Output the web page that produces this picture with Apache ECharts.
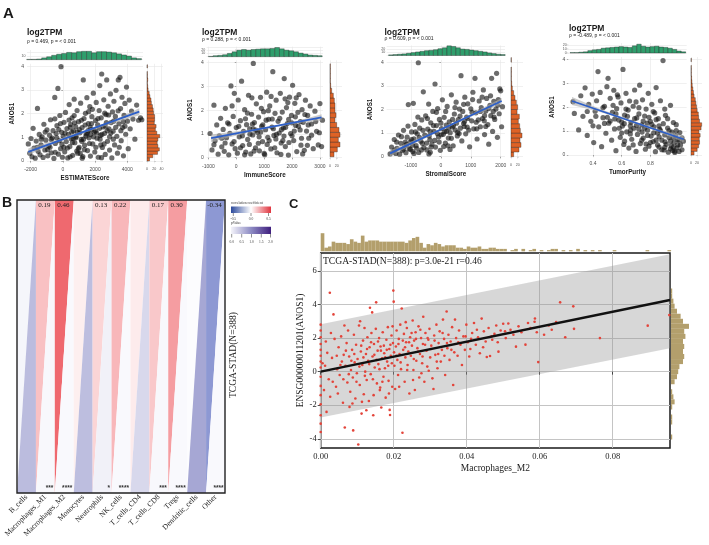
<!DOCTYPE html>
<html>
<head>
<meta charset="utf-8">
<script src="https://cdn.jsdelivr.net/npm/echarts@6.0.0/dist/echarts.min.js"></script>
<style>
html, body { margin: 0; padding: 0; background: #fff; }
#frame { width: 709px; height: 545px; }
</style>
</head>
<body>
<div id="frame"></div>
<script>
// ---------- panel A : ANOS1 against the ESTIMATE scores ----------
const a1Points = [[-2150,0.72],[-2060,0.33],[-1980,0.95],[-1920,0.18],[-1850,1.38],[-1790,0.55],[-1720,0.12],[-1660,0.84],[-1580,2.22],[-1540,0.41],[-1470,1.12],[-1420,0.26],[-1360,0.68],[-1290,1.02],[-1230,0.15],[-1180,1.55],[-1120,0.47],[-1060,0.88],[-990,1.31],[-940,0.22],[-880,0.63],[-830,1.09],[-770,1.74],[-720,0.35],[-660,0.97],[-610,1.28],[-560,0.11],[-505,2.68],[-470,0.74],[-420,1.16],[-370,1.49],[-310,3.06],[-280,0.29],[-230,0.86],[-190,1.92],[-140,0.52],[-118,3.98],[-80,1.21],[-30,0.16],[20,1.04],[70,1.63],[110,0.39],[160,2.05],[210,0.82],[250,1.37],[300,0.13],[340,1.12],[390,2.38],[430,0.61],[480,1.54],[520,0.94],[570,1.82],[610,0.24],[660,1.27],[700,2.61],[740,0.77],[790,1.45],[830,1.03],[880,2.13],[920,0.33],[970,1.66],[1010,0.58],[1060,1.19],[1100,2.44],[1140,0.91],[1190,1.41],[1240,0.19],[1267,3.42],[1310,1.79],[1350,0.67],[1400,2.01],[1440,1.14],[1490,2.67],[1530,0.44],[1580,1.58],[1620,0.98],[1670,2.29],[1710,0.21],[1760,1.33],[1800,1.87],[1850,0.72],[1890,2.86],[1940,1.22],[1980,0.38],[2030,1.71],[2070,2.47],[2120,0.96],[2160,1.53],[2200,0.16],[2250,2.13],[2290,3.18],[2330,1.08],[2380,1.82],[2410,3.67],[2450,0.57],[2500,1.44],[2540,2.58],[2590,1.17],[2630,0.28],[2680,1.96],[2720,3.42],[2770,0.83],[2810,2.31],[2860,1.36],[2900,0.46],[2950,2.83],[2990,1.62],[3040,0.13],[3080,2.07],[3120,1.26],[3170,2.52],[3210,0.68],[3260,1.88],[3300,2.98],[3350,1.04],[3390,0.33],[3441,3.42],[3480,1.57],[3545,3.53],[3580,2.21],[3620,0.86],[3670,2.69],[3710,1.41],[3760,0.22],[3800,1.93],[3850,2.43],[3900,1.13],[3950,3.12],[4010,1.68],[4060,0.52],[4120,2.57],[4180,1.36],[4260,2.11],[4350,1.77],[4470,0.92],[4580,2.36],[4700,1.72],[4820,1.82],[4900,1.74],[640,0.95],[890,1.22],[1170,0.83],[1430,1.05],[1720,1.12],[2020,1.27],[2310,0.92],[2620,1.48],[1560,1.28],[960,0.52],
  [-950,0.48],[-720,0.91],[-480,0.37],[-260,1.33],[-60,0.71],[130,1.18],[280,0.55],[460,1.42],[590,0.78],[720,1.61],[860,0.42],[1020,1.33],[1150,1.72],[1280,0.92],[1380,1.52],[1520,1.18],[1650,0.74],[1780,1.58],[1900,1.02],[2050,0.58],[2180,1.79],[2280,1.38],[2420,1.12],[2560,0.72],[2700,1.62],[2840,1.94],[2980,1.18],[3130,0.92],[3280,1.42],[3430,2.12],[3600,1.28],[3750,1.66],[-1350,0.92],[-1100,1.22],[-800,0.58],[-380,0.98],[-150,1.58],[60,0.58],[380,1.73],[550,1.22],[800,0.98],[1080,0.32],[1330,0.48],[1600,2.08],[1830,2.18],[2100,1.18],[2350,0.68],[2600,2.02],[2900,1.02],[3150,1.68],[3500,0.58],[3850,1.47],[450,0.18],[1200,0.12],[2400,0.14],[-1600,0.58],[-500,1.78],[700,1.92],[1700,1.42],[2750,1.28]];
const a2Points = [[-940,1.02],[-870,0.33],[-800,2.21],[-760,0.71],[-700,1.38],[-650,0.15],[-610,0.92],[-560,1.66],[-520,0.46],[-470,1.19],[-430,0.27],[-390,2.08],[-350,0.84],[-310,1.47],[-270,0.12],[-230,1.03],[-190,3.02],[-150,0.58],[-110,1.74],[-70,2.71],[-40,0.38],[0,1.27],[40,0.19],[70,2.43],[110,0.88],[150,1.56],[190,3.22],[230,0.51],[260,1.11],[300,2.02],[340,0.24],[370,1.39],[410,0.77],[440,2.63],[480,1.21],[520,0.16],[550,1.83],[590,0.96],[611,3.97],[650,1.48],[690,0.42],[720,2.27],[760,1.07],[800,1.71],[830,0.29],[870,2.54],[910,1.32],[940,0.68],[980,1.94],[1020,0.13],[1050,1.18],[1090,2.76],[1130,0.86],[1160,1.62],[1200,2.18],[1240,0.37],[1280,1.29],[1310,3.62],[1350,0.94],[1390,1.87],[1430,2.42],[1460,0.21],[1500,1.53],[1540,1.04],[1580,2.71],[1610,0.62],[1650,1.92],[1690,1.25],[1720,3.33],[1760,0.47],[1800,2.11],[1830,1.44],[1870,0.11],[1910,2.55],[1950,1.02],[1980,1.78],[2020,3.05],[2060,0.72],[2100,2.29],[2130,1.36],[2170,0.26],[2210,1.91],[2250,2.66],[2290,1.17],[2320,0.53],[2360,2.02],[2400,1.49],[2440,0.31],[2480,2.42],[2520,1.12],[2560,1.78],[2600,0.82],[2650,2.18],[2700,1.42],[2760,0.38],[2820,1.96],[2880,1.11],[2940,0.54],[3000,2.28],[3060,0.47],[3090,1.58],[610,1.22],[880,1.08],[1290,1.63],[1710,0.91],[1990,1.47],[1110,0.56],[1420,0.79],[790,0.61],[490,0.99],[1890,0.64],
  [-520,0.82],[-260,1.42],[-80,0.68],[90,1.32],[220,0.92],[330,1.64],[470,0.56],[580,1.42],[700,1.16],[820,0.88],[950,1.38],[1070,1.58],[1180,0.72],[1330,1.22],[1440,0.98],[1560,1.66],[1670,0.72],[1770,1.28],[1880,1.62],[2000,0.92],[2120,1.72],[2230,1.32],[2340,0.82],[2460,1.82],[2580,1.38],[2700,0.95],[2850,1.52],[-800,0.55],[-400,0.62],[150,0.42],[400,1.88],[640,0.28],[900,2.08],[1150,1.98],[1380,0.42],[1620,1.18],[1850,2.32],[2080,1.12],[2300,1.52],[2550,0.52],[2980,1.05],[560,2.52],[1250,2.58],[1750,2.48],[2150,2.52],[300,0.12],[1000,0.18],[1600,0.14],[2380,0.16],[-150,2.18]];
const a3Points = [[-1700,0.12],[-1650,0.41],[-1600,0.2],[-1560,0.73],[-1510,0.14],[-1470,0.36],[-1420,0.92],[-1380,0.11],[-1340,0.57],[-1290,0.26],[-1250,1.12],[-1210,0.45],[-1170,0.17],[-1130,0.83],[-1090,2.21],[-1060,0.34],[-1020,0.63],[-980,1.05],[-940,0.22],[-923,2.26],[-900,0.76],[-870,1.37],[-830,0.47],[-790,0.97],[-756,3.98],[-740,0.18],[-710,1.21],[-670,0.66],[-640,1.56],[-588,2.75],[-570,0.39],[-540,0.92],[-510,1.73],[-470,0.29],[-440,1.17],[-410,2.23],[-370,0.72],[-340,1.44],[-300,0.53],[-270,1.92],[-230,1.07],[-197,3.08],[-180,0.41],[-150,1.32],[-110,2.04],[-80,0.84],[-50,1.58],[-20,0.27],[20,1.19],[50,2.41],[80,0.95],[110,1.67],[150,0.58],[180,1.34],[210,2.13],[250,0.79],[280,1.48],[310,1.02],[350,2.62],[380,1.26],[410,0.46],[450,1.81],[480,1.13],[510,2.31],[550,0.88],[580,1.57],[620,2.02],[650,1.21],[672,3.43],[700,0.67],[730,1.92],[760,1.41],[800,2.52],[830,0.97],[860,1.68],[900,2.24],[930,1.13],[960,0.42],[1000,2.03],[1030,1.52],[1070,2.73],[1100,1.18],[1140,3.32],[1170,1.86],[1210,0.75],[1251,1.56],[1280,2.36],[1320,1.27],[1350,2.08],[1390,1.62],[1420,2.83],[1460,0.94],[1500,1.94],[1530,2.47],[1570,1.36],[1600,0.53],[1640,2.18],[1670,1.74],[1696,3.32],[1730,1.07],[1770,2.34],[1800,1.58],[1840,2.02],[1863,3.53],[1890,0.82],[1920,2.42],[1950,1.82],[1970,2.87],[2000,2.79],[2030,1.27],[2060,2.12],[-810,0.36],[-620,0.57],[-390,0.88],[-210,0.69],[10,0.93],[190,1.08],[420,1.31],[610,0.98],[790,1.49],[-1020,0.31],[-1190,0.62],[-355,0.19],[95,0.43],[305,0.31],
  [-1480,0.62],[-1320,0.85],[-1150,0.52],[-980,0.73],[-850,1.05],[-720,0.82],[-600,1.12],[-480,0.58],[-360,1.08],[-250,1.32],[-120,0.98],[0,1.42],[130,1.06],[260,1.22],[390,1.58],[520,1.42],[640,1.72],[780,1.28],[900,1.62],[1040,1.88],[1180,1.46],[1320,1.92],[1460,1.74],[1600,2.04],[1750,1.92],[1900,2.18],[-1550,0.28],[-1250,0.32],[-950,0.49],[-650,0.29],[-330,0.41],[-60,0.62],[240,0.46],[560,1.03],[880,1.26],[1200,1.18],[1500,1.28],[1780,1.68],[-1100,1.3],[-770,1.68],[-450,1.62],[-150,1.88],[160,1.92],[470,2.08],[760,2.22],[1060,2.42],[1380,2.52],[1660,2.58],[-400,0.12],[-900,0.14],[350,0.78],[1450,1.52]];
const a4Points = [[0.261,2.23],[0.27,1.74],[0.3,1.05],[0.315,2.48],[0.33,1.62],[0.345,2.81],[0.36,0.82],[0.37,2.12],[0.385,1.41],[0.395,2.55],[0.405,0.52],[0.415,1.83],[0.425,2.27],[0.435,3.49],[0.44,1.18],[0.45,2.62],[0.46,0.35],[0.47,1.56],[0.48,2.04],[0.49,0.91],[0.497,2.86],[0.505,3.21],[0.51,1.33],[0.52,2.37],[0.53,0.62],[0.535,1.78],[0.545,2.71],[0.55,1.09],[0.56,0.18],[0.565,1.94],[0.575,2.43],[0.58,1.46],[0.59,0.74],[0.595,2.18],[0.605,1.21],[0.609,3.58],[0.615,0.44],[0.62,1.67],[0.63,2.58],[0.635,0.97],[0.645,1.88],[0.65,0.29],[0.655,2.26],[0.665,1.37],[0.67,0.66],[0.68,2.04],[0.685,1.12],[0.69,2.72],[0.7,0.15],[0.705,1.55],[0.71,0.86],[0.72,1.98],[0.725,2.92],[0.73,0.48],[0.74,1.26],[0.745,2.31],[0.75,0.71],[0.76,1.63],[0.765,0.24],[0.77,1.92],[0.78,1.04],[0.785,2.58],[0.79,0.37],[0.8,1.41],[0.805,0.79],[0.81,2.12],[0.82,0.56],[0.825,1.18],[0.83,1.76],[0.835,0.14],[0.84,2.82],[0.85,0.92],[0.855,1.52],[0.86,0.33],[0.865,1.08],[0.87,2.27],[0.88,0.62],[0.888,3.95],[0.89,1.31],[0.895,0.21],[0.9,0.84],[0.905,1.66],[0.91,0.45],[0.92,1.13],[0.925,0.12],[0.93,0.73],[0.94,2.08],[0.945,0.38],[0.95,0.96],[0.955,0.19],[0.96,1.36],[0.965,0.52],[0.97,0.11],[0.975,0.81],[0.98,1.27],[0.985,0.3],[0.99,0.64],[1.0,0.15],[1.005,0.94],[1.01,0.42],[1.02,0.22],[1.03,0.58],[0.618,1.31],[0.662,1.04],[0.703,1.24],[0.742,0.96],[0.778,1.33],[0.823,0.93],[0.861,0.76],[0.902,0.55],[0.583,1.12],[0.552,1.51],
  [0.36,1.82],[0.42,1.62],[0.47,1.98],[0.52,1.42],[0.56,1.72],[0.6,1.38],[0.63,1.92],[0.66,1.22],[0.69,1.52],[0.72,1.08],[0.75,1.42],[0.78,0.82],[0.81,1.28],[0.84,0.62],[0.87,1.02],[0.9,0.32],[0.93,1.02],[0.96,0.72],[0.99,0.42],[0.4,1.22],[0.48,1.32],[0.54,2.08],[0.6,0.92],[0.64,1.62],[0.68,0.42],[0.72,1.72],[0.76,1.12],[0.8,0.52],[0.84,1.48],[0.88,0.22],[0.92,1.52],[0.96,0.32],[1.0,0.62],[0.5,1.58],[0.57,2.52],[0.62,0.58],[0.7,2.22],[0.77,0.46],[0.82,1.82],[0.86,1.22],[0.9,1.92],[0.94,0.58],[0.98,1.02],[1.02,0.72],[0.66,0.88],[0.74,0.62],[0.79,1.58],[0.85,0.42],[0.94,0.26],[0.97,0.16]];

const a1Fit = [[-2150, 0.39], [4745, 2.08]];
const a2Fit = [[-903, 0.82], [3060, 1.70]];
const a3Fit = [[-1702, 0.14], [2033, 2.36]];
const a4Fit = [[0.254, 2.26], [1.032, 0.66]];
// confidence ribbon: [x, lower, upper]
const a1Band = [[-2150,0.25,0.53],[-300,0.80,0.92],[1300,1.18,1.29],[3000,1.56,1.68],[4745,1.93,2.23]];
const a2Band = [[-903,0.66,0.98],[500,1.08,1.19],[1300,1.26,1.34],[2200,1.45,1.56],[3060,1.57,1.83]];
const a3Band = [[-1702,0.01,0.27],[-800,0.61,0.75],[0,1.10,1.20],[1000,1.69,1.81],[2033,2.23,2.49]];
const a4Band = [[0.254,2.09,2.43],[0.45,1.80,1.92],[0.64,1.43,1.51],[0.84,1.00,1.11],[1.032,0.53,0.79]];

const a1TopCounts = [1,1,2,5,8,12,15,17,20,19,22,23,23,19,22,22,21,19,16,13,10,5,3];
const a2TopCounts = [1,3,4,6,10,15,20,22,20,22,23,24,24,25,28,24,20,18,15,11,8,5,4,3];
const a3TopCounts = [2,3,4,5,7,9,11,13,15,16,18,21,24,30,28,24,20,19,17,15,13,11,8,6,4,3];
const a4TopCounts = [1,1,2,3,6,8,9,12,13,14,15,16,15,14,18,22,17,15,16,17,15,14,12,9,5,3];
const a1RightCounts = [7,16,29,34,30,28,30,35,27,23,25,20,21,21,18,17,15,12,11,8,6,3,2,1,2,1,1,0,1];
const a2RightCounts = [12,22,30,25,30,27,20,15,18,15,15,13,10,5,2,1,1,1,1];
const a3RightCounts = [8,24,30,27,33,28,26,22,25,18,20,16,12,8,4,2,1,1,1,0,1];
const a4RightCounts = [10,20,25,28,27,30,26,33,35,28,25,24,20,18,16,14,10,8,6,4,3,2,1,1,1,0,1];

const aXNames = ['ESTIMATEScore', 'ImmuneScore', 'StromalScore', 'TumorPurity'];
const aRho = ['0.469', '0.288', '0.609', '-0.489'];
const aXTicks = [[-2000, 0, 2000, 4000], [-1000, 0, 1000, 2000, 3000], [-1000, 0, 1000, 2000], [0.4, 0.6, 0.8]];
const aYTicks = [0, 1, 2, 3, 4];
const aTopStart = [-2250, -1000, -1750, 0.24];
const aTopWidth = [310, 170, 150, 0.031];
const aRightStart = [0, 0.04, 0, 0];
const aRightWidth = [0.14, 0.206, 0.2, 0.15];
const aTopTicks = [[0, 10, 20], [0, 10, 20, 30], [0, 10, 20, 30], [0, 10, 20]];
const aRightTicks = [[0, 20, 40], [0, 20], [0, 20], [0, 20]];

// ---------- panel B : immune infiltration correlations ----------
const cellTypes = ['B_cells', 'Macrophages_M1', 'Macrophages_M2', 'Monocytes', 'Neutrophils', 'NK_cells', 'T_cells_CD4', 'T_cells_CD8', 'Tregs', 'Dendritic_cells', 'Other'];
const corrValues = [-0.03, 0.19, 0.46, 0.05, 0.13, 0.22, 0.06, 0.17, 0.30, -0.01, -0.34];
const pValues = [0.66, 0.02, 0.01, 0.64, 0.10, 0.01, 0.36, 0.02, 0.01, 0.88, 0.01];
const corrLabels = ['', '0.19', '0.46', '', '0.13', '0.22', '', '0.17', '0.30', '', '-0.34'];
const stars = ['', '***', '****', '', '*', '****', '', '***', '****', '', '****'];

// ---------- panel C : ANOS1 against Macrophages_M2 ----------
const cPoints = [[0.0016,-2.4],[0.0025,4.7],[0.0035,3.41],[0.0026,-1.5],[0.0012,0.35],[0.0018,1.12],[0.0022,-0.45],[0.0031,0.82],[0.0038,1.95],[0.0042,-0.9],[0.0045,0.15],[0.0049,1.45],[0.0052,-0.2],[0.0056,2.1],[0.0058,0.6],[0.0061,-1.85],[0.0063,1.0],[0.0066,-3.33],[0.0068,0.35],[0.0071,1.7],[0.0073,-0.65],[0.0075,2.45],[0.0078,0.9],[0.0081,-1.2],[0.0083,0.1],[0.0085,-4.6],[0.0086,1.3],[0.0088,-0.35],[0.0089,-3.5],[0.0091,2.2],[0.0093,0.55],[0.0095,-1.6],[0.0097,1.6],[0.0099,-0.1],
  [0.0101,0.75],[0.0103,-4.34],[0.0105,2.75],[0.0107,-0.8],[0.0108,3.0],[0.0110,1.2],[0.0112,-2.5],[0.0114,0.4],[0.0116,1.85],[0.0118,-1.35],[0.0120,2.6],[0.0122,0.0],[0.0124,1.05],[0.0126,-0.5],[0.0128,2.05],[0.0130,0.65],[0.0132,-1.75],[0.0134,1.45],[0.0135,3.81],[0.0137,-0.15],[0.0139,2.3],[0.0141,3.53],[0.0142,0.9],[0.0144,-2.6],[0.0146,1.65],[0.0148,0.25],[0.0149,-4.6],[0.0151,2.55],[0.0152,4.13],[0.0154,-0.7],[0.0156,1.25],[0.0158,0.45],[0.0160,2.0],[0.0162,-1.1],[0.0164,1.5],[0.0166,-2.14],[0.0168,0.8],[0.0170,2.35],[0.0172,-0.3],[0.0174,1.1],[0.0176,0.2],[0.0178,-1.55],[0.0180,1.9],[0.0182,0.6],[0.0184,2.65],[0.0186,-0.55],[0.0188,1.35],[0.0189,-2.28],[0.0190,-2.58],[0.0192,0.95],[0.0194,2.15],[0.0196,-0.9],[0.0198,1.7],[0.0199,4.83],[0.0200,4.17],
  [0.0202,0.35],[0.0204,-1.03],[0.0206,1.5],[0.0208,2.45],[0.0210,0.7],[0.0212,-0.2],[0.0214,1.95],[0.0216,1.05],[0.0218,2.8],[0.0220,0.15],[0.0222,3.76],[0.0224,-3.64],[0.0226,1.3],[0.0228,2.25],[0.0230,-0.6],[0.0232,0.85],[0.0234,1.75],[0.0236,2.6],[0.0238,0.4],[0.0240,1.2],[0.0243,-1.3],[0.0245,2.05],[0.0247,0.95],[0.0250,1.55],[0.0252,3.05],[0.0254,0.1],[0.0256,1.85],[0.0258,-1.09],[0.0260,2.35],[0.0262,0.65],[0.0265,1.4],[0.0268,2.7],[0.0270,-0.35],[0.0272,1.05],[0.0275,2.0],[0.0278,0.5],[0.0280,1.65],[0.0281,3.27],[0.0284,-0.6],[0.0287,2.3],[0.0290,1.25],[0.0292,0.3],[0.0295,1.9],[0.0298,2.55],
  [0.0300,0.85],[0.0303,1.55],[0.0306,-0.4],[0.0309,-1.03],[0.0311,2.15],[0.0314,1.0],[0.0317,2.8],[0.0320,0.2],[0.0323,1.7],[0.0326,2.4],[0.0329,0.6],[0.0332,1.3],[0.0335,3.1],[0.0338,1.95],[0.0341,-0.2],[0.0345,3.58],[0.0347,1.4],[0.0350,2.2],[0.0353,0.7],[0.0356,1.8],[0.0360,2.65],[0.0363,-0.8],[0.0366,1.15],[0.0368,3.1],[0.0371,2.0],[0.0375,0.95],[0.0379,2.45],[0.0383,1.6],[0.0387,0.4],[0.0391,2.1],[0.0395,1.3],[0.0399,2.8],
  [0.0403,1.75],[0.0407,0.9],[0.0410,1.35],[0.0415,2.3],[0.0420,2.9],[0.0425,1.6],[0.0431,2.05],[0.0436,1.1],[0.0441,3.16],[0.0447,2.4],[0.0452,1.8],[0.0455,0.87],[0.0460,2.6],[0.0464,0.93],[0.0470,1.9],[0.0476,2.25],[0.0481,2.75],[0.0487,1.19],[0.0493,2.45],[0.0500,2.85],[0.0507,2.0],[0.0514,2.87],[0.0520,2.5],[0.0528,2.2],[0.0535,1.49],[0.0542,2.7],[0.0550,2.35],[0.0561,1.61],[0.0568,2.9],[0.0575,2.6],[0.0586,2.97],[0.0587,3.17],[0.0592,2.35],[0.0596,0.57],
  [0.0612,2.2],[0.0625,2.75],[0.0633,2.5],[0.0645,2.95],[0.0656,4.13],[0.0670,2.05],[0.0692,3.89],[0.0694,2.55],[0.0765,2.0],[0.0896,2.74],[0.0955,3.37],
  [0,2.8],[0,2.45],[0,2.05],[0,1.65],[0,1.3],[0,0.95],[0,0.6],[0,0.25],[0,-0.3],[0,-0.85],[0,-1.4],[0,-1.95],[0,-2.6],[0,-3.1],[0,-3.6],
  [0.0033,-0.6],[0.0044,0.95],[0.0054,0.4],[0.0062,-0.45],[0.0069,1.25],[0.0077,-0.15],[0.0084,0.65],[0.0092,1.05],[0.0098,-0.6],[0.0106,0.3],[0.0111,1.55],[0.0117,0.85],[0.0121,-0.25],[0.0127,1.35],[0.0133,0.45],[0.0138,1.75],[0.0143,-0.45],[0.0147,1.0],[0.0153,0.7],[0.0157,1.8],[0.0161,0.15],[0.0165,1.25],[0.0169,-0.6],[0.0173,1.55],[0.0177,0.85],[0.0181,1.3],[0.0185,0.35],[0.0191,1.6],[0.0195,0.5],[0.0201,1.15],[0.0207,0.95],[0.0213,1.65],[0.0219,0.55],[0.0225,1.85],[0.0231,1.45],[0.0237,0.1],[0.0242,1.75],[0.0249,2.3],[0.0255,0.75],[0.0261,1.95],[0.0267,1.2],[0.0273,2.5],[0.0279,0.9],[0.0286,1.6],[0.0293,2.0],[0.0302,1.35],[0.0312,1.85],[0.0322,1.05],[0.0334,2.3],[0.0346,1.7],[0.0005,0.5],[0.0009,-1.1],[0.0014,1.8],[0.0028,2.3],[0.0047,-1.3],[0.0065,2.75],[0.0079,-2.1],[0.0087,-1.9],[0.0113,-1.8],[0.0125,-2.3],[0.0145,-1.4],[0.0163,-0.95],[0.0187,-1.3],[0.0197,2.7],[0.0215,-0.9],[0.0233,2.95],[0.0253,-0.5],[0.0276,-0.1],[0.0296,0.05],[0.0318,0.6],[0.0339,0.95],[0.0358,1.3],[0.0377,1.75],[0.0397,2.1],[0.0412,1.95],[0.0428,2.5],[0.0445,1.45],[0.0468,2.1],[0.0485,1.75],[0.0505,2.4]];
const cFit = [[0, 0.0], [0.0957, 4.27]];
const cBand = [[0, -2.73, 2.82], [0.0957, 1.40, 7.00]];
const cTopCounts = [15,3,4,8,7,7,7,6,10,8,7,13,8,9,9,9,8,8,8,8,8,8,8,7,9,11,12,7,3,6,5,7,6,4,5,5,5,3,3,2,4,3,3,4,2,2,3,3,2,2,2,0,1,2,0,2,0,1,2,0,1,0,1,2,2,0,1,0,1,0,2,0,1,0,1,0,1,0,0,0,1,0,0,0,0,0,0,0,0,1,0,0,0,0,0,1];
const cRightCounts = [0,1,0,0,1,1,0,1,3,2,1,0,3,5,6,7,10,11,10,11,10,12,11,15,10,8,5,3,2,1,1];
const cXTicks = [0, 0.02, 0.04, 0.06, 0.08];
const cYTicks = [-4, -2, 0, 2, 4, 6];

// ---------- layout ----------
const SANS = 'Liberation Sans', SERIF = 'Liberation Serif';
const layoutA = [
  {left: 27, top: 63.8, width: 116, height: 99.6, xMin: -2230, xMax: 4975, histTop: 50, histH: 9.7, topMax: 26.6, rightLeft: 147, rightW: 16, rightMax: 44, titleX: 27, titleY: 33, subY: 42, xNameY: 178, yNameX: 12},
  {left: 206.7, top: 60.3, width: 116.3, height: 99.8, xMin: -1060, xMax: 3110, histTop: 46.7, histH: 10, topMax: 30.5, rightLeft: 330, rightW: 12, rightMax: 36, titleX: 202, titleY: 33, subY: 39.5, xNameY: 175, yNameX: 190},
  {left: 386.7, top: 59.9, width: 118.3, height: 99.2, xMin: -1813, xMax: 2144, histTop: 45.5, histH: 10, topMax: 31, rightLeft: 511, rightW: 12, rightMax: 36, titleX: 384.5, titleY: 32.7, subY: 38.5, xNameY: 174, yNameX: 370},
  {left: 568.3, top: 57, width: 118.4, height: 100.4, xMin: 0.228, xMax: 1.053, histTop: 43, histH: 10, topMax: 25, rightLeft: 691, rightW: 11, rightMax: 36, titleX: 569, titleY: 28.5, subY: 35.7, xNameY: 172.7, yNameX: 552}
];
const aPoints = [a1Points, a2Points, a3Points, a4Points];
const aFits = [a1Fit, a2Fit, a3Fit, a4Fit];
const aBands = [a1Band, a2Band, a3Band, a4Band];
const aTop = [a1TopCounts, a2TopCounts, a3TopCounts, a4TopCounts];
const aRight = [a1RightCounts, a2RightCounts, a3RightCounts, a4RightCounts];

const grid = [], xAxis = [], yAxis = [], series = [], graphic = [];

function addCoord(g, xa, ya) {
  const i = grid.length;
  grid.push(Object.assign({show: false}, g));
  xAxis.push(Object.assign({gridIndex: i}, xa));
  yAxis.push(Object.assign({gridIndex: i}, ya));
  return i;
}

function txt(x, y, text, size, opt) {
  opt = opt || {};
  graphic.push({
    type: 'text', x: x, y: y, rotation: opt.rot || 0, z: 20, silent: true,
    style: {
      text: text, fill: opt.color || '#1a1a1a',
      font: (opt.bold ? 'bold ' : '') + size + 'px ' + (opt.family || SANS),
      align: opt.align || 'left', textAlign: opt.align || 'left',
      verticalAlign: 'middle', textVerticalAlign: 'middle'
    }
  });
}

function fmt(v) {
  if (v !== 0 && Math.abs(v) < 1) return v.toFixed(1);
  return String(v);
}

function bins(start, w, counts) {
  return counts.map((c, k) => [start + k * w, start + (k + 1) * w, c]);
}

function histRender(upward, fill, stroke) {
  return function (params, api) {
    const a = api.value(0), b = api.value(1), n = api.value(2);
    if (!n) return null;
    const p0 = upward ? api.coord([a, 0]) : api.coord([0, a]);
    const p1 = upward ? api.coord([b, n]) : api.coord([n, b]);
    return {
      type: 'rect',
      shape: {x: Math.min(p0[0], p1[0]), y: Math.min(p0[1], p1[1]), width: Math.abs(p1[0] - p0[0]), height: Math.abs(p1[1] - p0[1])},
      style: {fill: fill, stroke: stroke || null, lineWidth: stroke ? 0.35 : 0}
    };
  };
}

function bandRender(band, fill) {
  return function (params, api) {
    const up = band.map(b => api.coord([b[0], b[2]]));
    const lo = band.map(b => api.coord([b[0], b[1]])).reverse();
    return {type: 'polygon', shape: {points: up.concat(lo)}, style: {fill: fill}};
  };
}

const lightGrid = {show: true, lineStyle: {color: '#e6e6e6', width: 0.6}};
const tinyLabel = {fontSize: 3.6, color: '#555', fontFamily: SANS, margin: 1.5};

// ----- panel A -----
layoutA.forEach((L, k) => {
  const tickStyle = {show: true, length: 1.5, lineStyle: {color: '#555', width: 0.5}};
  const g = addCoord(
    {left: L.left, top: L.top, width: L.width, height: L.height},
    {type: 'value', min: L.xMin, max: L.xMax, axisLine: {show: false},
      axisTick: Object.assign({customValues: aXTicks[k]}, tickStyle),
      axisLabel: {customValues: aXTicks[k], formatter: fmt, fontSize: 5, color: '#4d4d4d', margin: 4, fontFamily: SANS},
      splitLine: lightGrid},
    {type: 'value', min: -0.1, max: 4.1, axisLine: {show: false},
      axisTick: Object.assign({customValues: aYTicks}, tickStyle),
      axisLabel: {customValues: aYTicks, formatter: fmt, fontSize: 5, color: '#4d4d4d', margin: 3, fontFamily: SANS},
      splitLine: lightGrid}
  );
  series.push({type: 'scatter', xAxisIndex: g, yAxisIndex: g, data: aPoints[k], symbolSize: 5.2, silent: true,
    itemStyle: {color: 'rgb(18,18,18)', opacity: 0.62}, z: 2});
  series.push({type: 'custom', xAxisIndex: g, yAxisIndex: g, data: [[aBands[k][0][0], aBands[k][0][1]]], silent: true,
    renderItem: bandRender(aBands[k], 'rgba(170,170,170,0.6)'), z: 3});
  series.push({type: 'line', xAxisIndex: g, yAxisIndex: g, data: aFits[k], showSymbol: false, silent: true,
    lineStyle: {color: '#2d5fc8', width: 1.8}, z: 4});

  const gt = addCoord(
    {left: L.left, top: L.histTop, width: L.width, height: L.histH},
    {type: 'value', min: L.xMin, max: L.xMax, axisLine: {show: false}, axisTick: {show: false, customValues: aXTicks[k]},
      axisLabel: {show: false, customValues: aXTicks[k]}, splitLine: lightGrid},
    {type: 'value', min: 0, max: L.topMax, axisLine: {show: false},
      axisTick: {show: true, length: 1, lineStyle: {color: '#555', width: 0.4}, customValues: aTopTicks[k]},
      axisLabel: Object.assign({customValues: aTopTicks[k]}, tinyLabel), splitLine: lightGrid}
  );
  series.push({type: 'custom', xAxisIndex: gt, yAxisIndex: gt, silent: true,
    data: bins(aTopStart[k], aTopWidth[k], aTop[k]), encode: {x: [0, 1], y: 2},
    renderItem: histRender(true, '#2f9e6c', '#1c1c1c')});

  const gr = addCoord(
    {left: L.rightLeft, top: L.top, width: L.rightW, height: L.height},
    {type: 'value', min: 0, max: L.rightMax, axisLine: {show: false},
      axisTick: {show: true, length: 1, lineStyle: {color: '#555', width: 0.4}, customValues: aRightTicks[k]},
      axisLabel: Object.assign({customValues: aRightTicks[k]}, tinyLabel, {margin: 4}), splitLine: lightGrid},
    {type: 'value', min: -0.1, max: 4.1, axisLine: {show: false}, axisTick: {show: false, customValues: aYTicks},
      axisLabel: {show: false, customValues: aYTicks}, splitLine: lightGrid}
  );
  series.push({type: 'custom', xAxisIndex: gr, yAxisIndex: gr, silent: true,
    data: bins(aRightStart[k], aRightWidth[k], aRight[k]), encode: {y: [0, 1], x: 2},
    renderItem: histRender(false, '#de6226', '#1c1c1c')});

  txt(L.titleX, L.titleY, 'log2TPM', 8.5, {bold: true});
  txt(L.titleX, L.subY, 'ρ = ' + aRho[k] + ', p = < 0.001', 5, {color: '#222'});
  txt(L.left + L.width / 2, L.xNameY, aXNames[k], 6.3, {bold: true, align: 'center'});
  txt(L.yNameX, L.top + L.height / 2, 'ANOS1', 6.3, {bold: true, align: 'center', rot: Math.PI / 2});
});

// ----- panel B -----
const RED = [238, 92, 98], BLUE = [88, 104, 190], PURPLE = [60, 62, 160];
function mix(a, b, t) {
  return 'rgb(' + a.map((v, i) => Math.round(v + (b[i] - v) * t)).join(',') + ')';
}
function corrColor(r) {
  const t = Math.min(Math.abs(r) / 0.5, 1);
  return mix([255, 255, 255], r >= 0 ? RED : BLUE, t);
}
function pColor(p) {
  return mix([250, 250, 253], PURPLE, Math.min(p / 2, 1));
}

const gb = addCoord(
  {left: 17, top: 200, width: 208, height: 293, show: true, borderColor: '#222', borderWidth: 1.4, z: 10},
  {type: 'category', data: cellTypes, axisLine: {show: false}, axisTick: {show: false},
    axisLabel: {rotate: 45, interval: 0, fontFamily: SERIF, fontSize: 7.6, color: '#222', margin: 3}},
  {type: 'value', min: 0, max: 1, show: false}
);
series.push({
  type: 'custom', xAxisIndex: gb, yAxisIndex: gb, silent: true,
  data: cellTypes.map((c, k) => [k, corrValues[k], pValues[k]]),
  renderItem: function (params, api) {
    const k = api.value(0);
    const bot = api.coord([k, 0]), top = api.coord([k, 1]);
    const w = api.size([1, 0])[0];
    const L = bot[0] - w / 2, R = bot[0] + w / 2, T = top[1], B = bot[1];
    return {
      type: 'group', children: [
        {type: 'polygon', shape: {points: [[L, T], [R, T], [L, B]]}, style: {fill: corrColor(api.value(1))}},
        {type: 'polygon', shape: {points: [[R, T], [R, B], [L, B]]}, style: {fill: pColor(api.value(2))}},
        {type: 'text', x: bot[0] - 1, y: T + 5.5, style: {text: corrLabels[k], font: '7px ' + SERIF, fill: '#222', align: 'center', verticalAlign: 'middle'}},
        {type: 'text', x: R - 1.5, y: B - 4.5, style: {text: stars[k], font: 'bold 6.5px ' + SANS, fill: '#333', align: 'right', verticalAlign: 'middle'}}
      ]
    };
  }
});
txt(233.5, 355, 'TCGA-STAD(N=388)', 9.5, {family: SERIF, align: 'center', rot: Math.PI / 2});

// legend of panel B
txt(231, 203, 'correlation coefficient', 3.6, {family: SERIF, color: '#333'});
graphic.push({type: 'rect', z: 20, silent: true, shape: {x: 231, y: 206.5, width: 40, height: 6.5},
  style: {fill: {type: 'linear', x: 0, y: 0, x2: 1, y2: 0, colorStops: [{offset: 0, color: '#2c4a9c'}, {offset: 0.5, color: '#ffffff'}, {offset: 1, color: '#e0353f'}]}}});
[['-0.5', 233.3], ['0.0', 251], ['0.5', 268.5]].forEach(t => {
  graphic.push({type: 'line', z: 20, silent: true, shape: {x1: t[1], y1: 213, x2: t[1], y2: 216}, style: {stroke: '#222', lineWidth: 0.5}});
  txt(t[1], 219, t[0], 3.6, {family: SERIF, align: 'center', color: '#333'});
});
txt(231, 223.3, 'pValue', 3.6, {family: SERIF, color: '#333'});
graphic.push({type: 'rect', z: 20, silent: true, shape: {x: 231, y: 226.7, width: 40, height: 7.3},
  style: {fill: {type: 'linear', x: 0, y: 0, x2: 1, y2: 0, colorStops: [{offset: 0, color: '#f4f4fa'}, {offset: 0.5, color: '#8e8cc4'}, {offset: 1, color: '#3f1e7e'}]}}});
[['0.0', 231.7], ['0.5', 241.7], ['1.0', 251.5], ['1.5', 261.3], ['2.0', 270.5]].forEach(t => {
  graphic.push({type: 'line', z: 20, silent: true, shape: {x1: t[1], y1: 234, x2: t[1], y2: 237.5}, style: {stroke: '#222', lineWidth: 0.5}});
  txt(t[1], 241.7, t[0], 3.6, {family: SERIF, align: 'center', color: '#333'});
});

// ----- panel C -----
const cTick = {show: true, length: 3, lineStyle: {color: '#222', width: 0.8}};
const gc = addCoord(
  {left: 320.7, top: 253, width: 349.3, height: 195, show: true, borderColor: '#1a1a1a', borderWidth: 1.5},
  {type: 'value', min: 0, max: 0.0957, axisLine: {show: false},
    axisTick: Object.assign({customValues: cXTicks}, cTick),
    axisLabel: {customValues: cXTicks, formatter: v => v.toFixed(2), fontFamily: SERIF, fontSize: 8.5, color: '#222', margin: 4},
    splitLine: {show: true, lineStyle: {color: '#c4c4c4', width: 1}},
    name: 'Macrophages_M2', nameLocation: 'middle', nameGap: 15, nameTextStyle: {fontFamily: SERIF, fontSize: 9.5, color: '#222'}},
  {type: 'value', min: -4.55, max: 7.07, axisLine: {show: false},
    axisTick: Object.assign({customValues: cYTicks}, cTick),
    axisLabel: {customValues: cYTicks, fontFamily: SERIF, fontSize: 8.5, color: '#222', margin: 4},
    splitLine: {show: true, lineStyle: {color: '#c4c4c4', width: 1}},
    name: 'ENSG00000011201(ANOS1)', nameLocation: 'middle', nameGap: 12, nameRotate: 90, nameTextStyle: {fontFamily: SERIF, fontSize: 9.5, color: '#222'}}
);
series.push({type: 'custom', xAxisIndex: gc, yAxisIndex: gc, silent: true, data: [[0, 0]],
  renderItem: bandRender(cBand, 'rgba(150,150,150,0.38)'), z: 1});
series.push({type: 'scatter', xAxisIndex: gc, yAxisIndex: gc, data: cPoints, symbolSize: 2.6, silent: true,
  itemStyle: {color: '#e3443a', opacity: 1}, z: 3});
series.push({type: 'line', xAxisIndex: gc, yAxisIndex: gc, data: cFit, showSymbol: false, silent: true,
  lineStyle: {color: '#111', width: 2.4}, z: 4});
txt(323, 261.5, 'TCGA-STAD(N=388): p=3.0e-21 r=0.46', 9.6, {family: SERIF});

const gct = addCoord(
  {left: 320.7, top: 232, width: 349.3, height: 19.3},
  {type: 'value', min: 0, max: 0.0957, show: false},
  {type: 'value', min: 0, max: 16, show: false}
);
series.push({type: 'custom', xAxisIndex: gct, yAxisIndex: gct, silent: true,
  data: bins(0, 0.001, cTopCounts), encode: {x: [0, 1], y: 2}, renderItem: histRender(true, '#b39f6c')});
const gcr = addCoord(
  {left: 671, top: 253, width: 25, height: 195},
  {type: 'value', min: 0, max: 20.8, show: false},
  {type: 'value', min: -4.55, max: 7.07, show: false}
);
series.push({type: 'custom', xAxisIndex: gcr, yAxisIndex: gcr, silent: true,
  data: bins(-4.35, 0.3, cRightCounts), encode: {y: [0, 1], x: 2}, renderItem: histRender(false, '#b39f6c')});

// panel letters
txt(3, 14, 'A', 15, {bold: true});
txt(2, 203, 'B', 14, {bold: true});
txt(289, 204, 'C', 13, {bold: true});

const chart = echarts.init(document.getElementById('frame'), null, {renderer: 'canvas'});
chart.setOption({
  animation: false,
  backgroundColor: '#ffffff',
  grid: grid, xAxis: xAxis, yAxis: yAxis, series: series, graphic: graphic
});
</script>
</body>
</html>
